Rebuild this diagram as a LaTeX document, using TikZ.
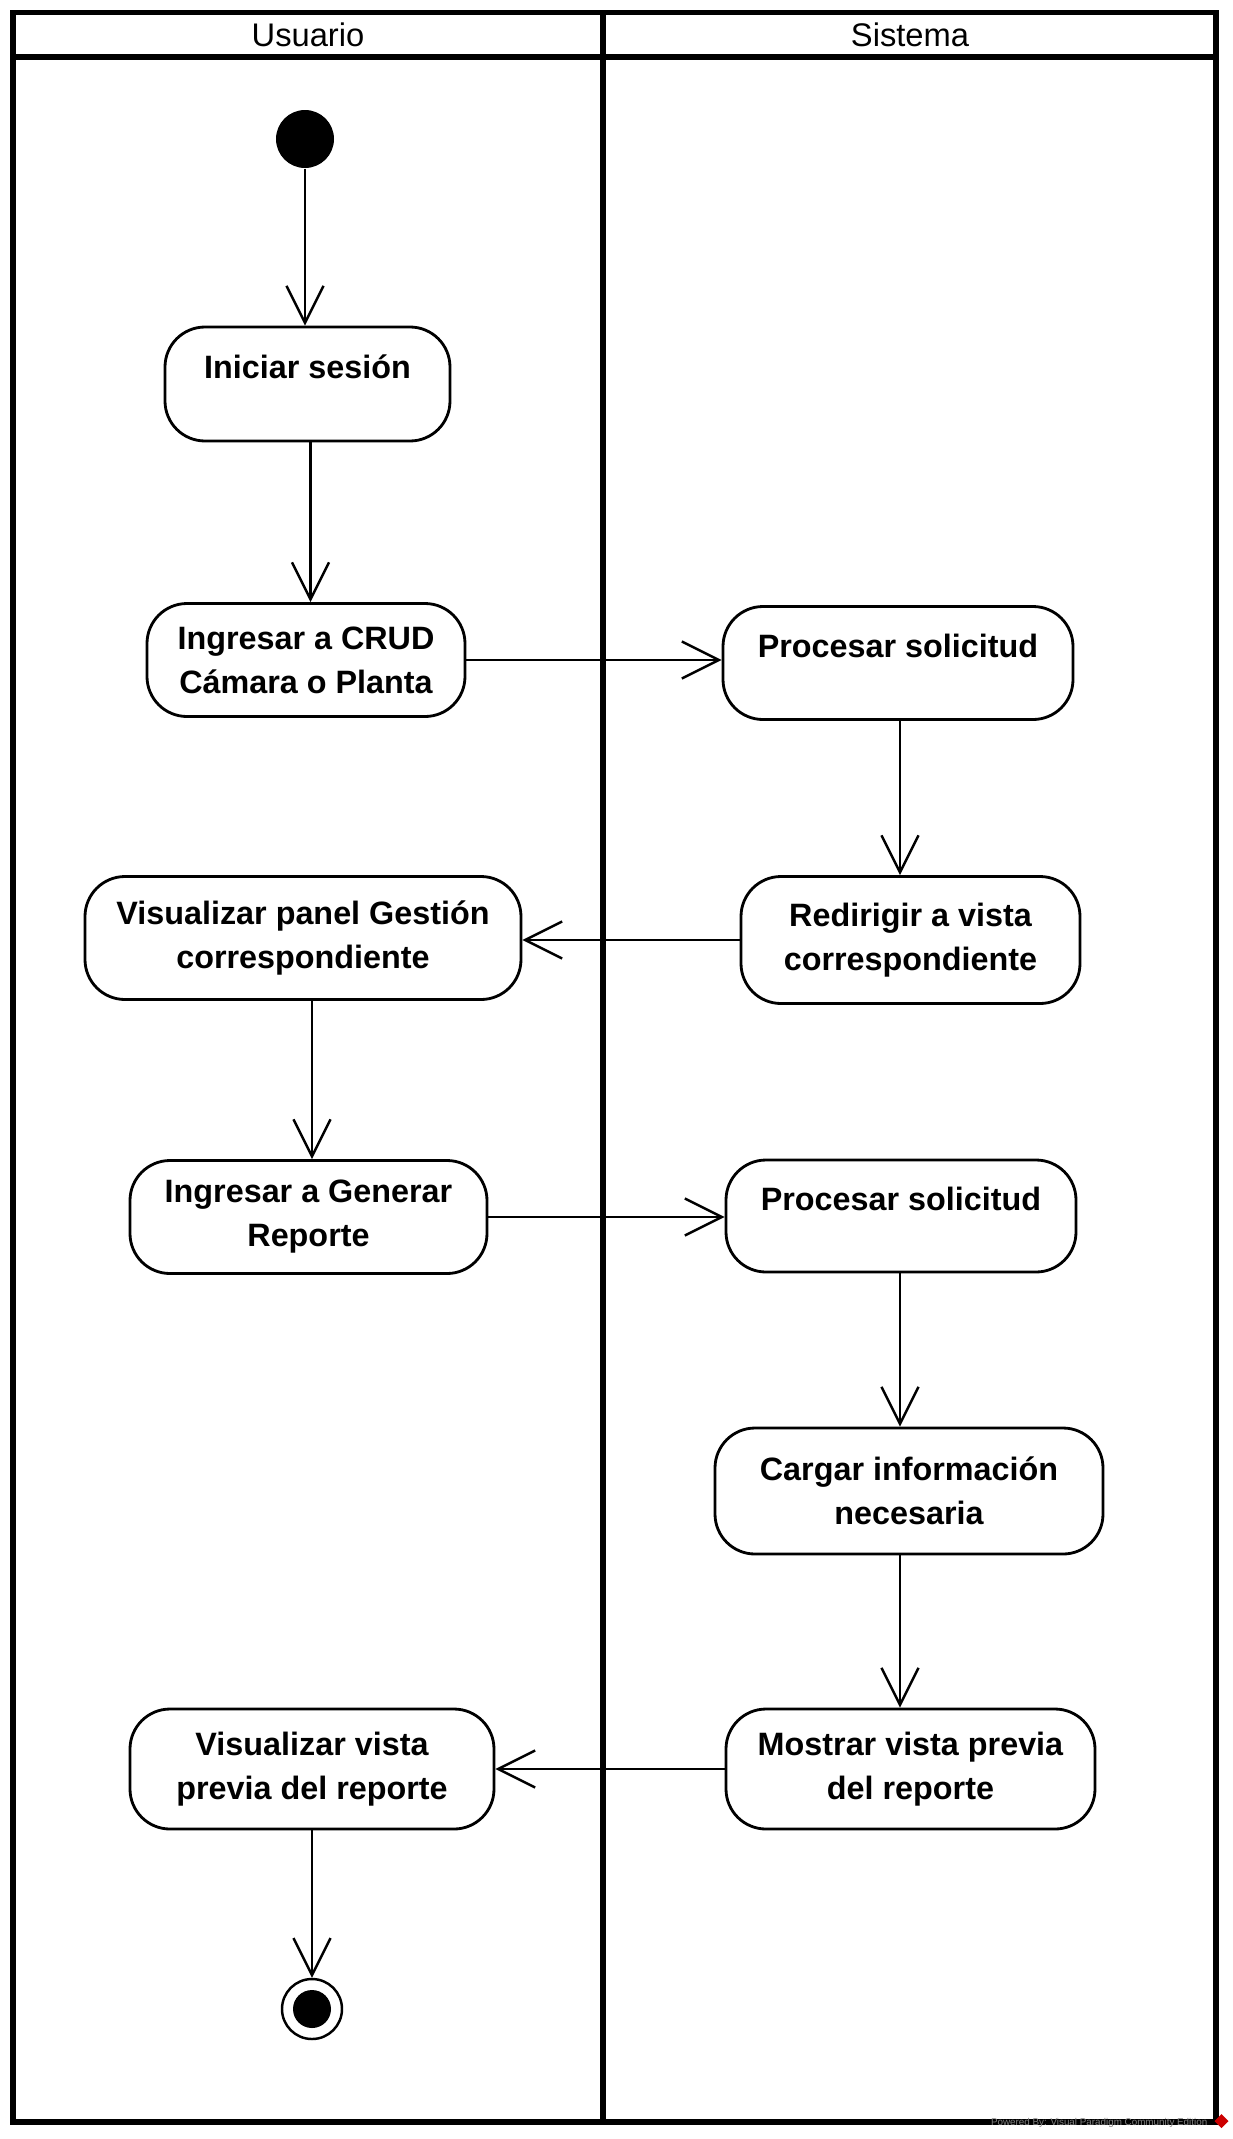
\documentclass[tikz,border=0pt]{standalone}
\usepackage{fontspec}
\setmainfont{Liberation Sans}
\usetikzlibrary{arrows.meta}

\begin{document}
\begin{tikzpicture}[
    accion/.style={draw, rounded corners=0.4cm, line width=0.8pt, align=center, inner sep=0pt,
        font=\bfseries\fontsize{9.2}{12.5}\selectfont},
    accionuna/.style={accion, text height=0.30cm, text depth=0.41cm},
    flujo/.style={-{Straight Barb[length=3.7mm,width=3.7mm]}, line width=0.7pt},
    carril/.style={line width=1.7pt},
    carriltit/.style={font=\fontsize{9.3}{11}\selectfont},
]
			\useasboundingbox (0, 0) rectangle (12.33, -21.39);
			% carriles
			\draw [carril] (0.13, -0.125) rectangle (12.16, -21.22);
			\draw [carril] (0.13, -0.57) -- (12.16, -0.57);
			\draw [carril] (6.03, -0.125) -- (6.03, -21.22);
			\node [carriltit] (usuario) at (3.08, -0.35) {Usuario};
			\node [carriltit] (sistema) at (9.10, -0.35) {Sistema};

			% inicio y fin
			\node [circle, fill=black, minimum size=0.58cm, inner sep=0pt] (inicio) at (3.05, -1.39) {};
			\node [circle, draw, line width=0.7pt, minimum size=0.60cm, inner sep=0pt] (fin) at (3.12, -20.09) {};
			\fill [black] (fin.center) circle (0.19);

			% acciones usuario
			\node [accionuna, minimum width=2.85cm, minimum height=1.14cm] (iniciar) at (3.075, -3.84) {Iniciar sesión};
			\node [accion, minimum width=3.18cm, minimum height=1.13cm] (crud) at (3.06, -6.60) {Ingresar a CRUD\\Cámara o Planta};
			\node [accion, minimum width=4.36cm, minimum height=1.23cm] (panel) at (3.03, -9.38) {Visualizar panel Gestión\\correspondiente};
			\node [accion, minimum width=3.57cm, minimum height=1.13cm] (generar) at (3.085, -12.17) {Ingresar a Generar\\Reporte};
			\node [accion, minimum width=3.64cm, minimum height=1.20cm] (vervista) at (3.12, -17.69) {Visualizar vista\\previa del reporte};

			% acciones sistema
			\node [accionuna, minimum width=3.50cm, minimum height=1.13cm] (proc1) at (8.98, -6.63) {Procesar solicitud};
			\node [accion, minimum width=3.39cm, minimum height=1.27cm] (redir) at (9.105, -9.40) {Redirigir a vista\\correspondiente};
			\node [accionuna, minimum width=3.50cm, minimum height=1.12cm] (proc2) at (9.01, -12.16) {Procesar solicitud};
			\node [accion, minimum width=3.88cm, minimum height=1.26cm] (cargar) at (9.09, -14.91) {Cargar información\\necesaria};
			\node [accion, minimum width=3.69cm, minimum height=1.20cm] (mostrar) at (9.105, -17.69) {Mostrar vista previa\\del reporte};

			% flujo
			\draw [flujo] (inicio.south) -- (inicio.south |- iniciar.north);
			\draw [flujo] ([xshift=0.03cm]iniciar.south) -- ([xshift=0.03cm]iniciar.south |- crud.north);
			\draw [flujo] (crud.east) -- (crud.east -| proc1.west);
			\draw [flujo] ([xshift=0.02cm]proc1.south) -- ([xshift=0.02cm]proc1.south |- redir.north);
			\draw [flujo] (redir.west) -- (redir.west -| panel.east);
			\draw [flujo] ([xshift=0.09cm]panel.south) -- ([xshift=0.09cm]panel.south |- generar.north);
			\draw [flujo] (generar.east) -- (generar.east -| proc2.west);
			\draw [flujo] ([xshift=-0.01cm]proc2.south) -- ([xshift=-0.01cm]proc2.south |- cargar.north);
			\draw [flujo] ([xshift=-0.09cm]cargar.south) -- ([xshift=-0.09cm]cargar.south |- mostrar.north);
			\draw [flujo] (mostrar.west) -- (mostrar.west -| vervista.east);
			\draw [flujo] (vervista.south) -- (fin.north);

			% marca de agua
			\node [anchor=base east, text=gray, inner sep=0pt, font=\fontsize{2.8}{3}\selectfont] (marca) at (12.08, -21.25) {Powered By: Visual Paradigm Community Edition};
			\fill [red!80!black] (12.215, -21.14) -- (12.285, -21.21) -- (12.215, -21.28) -- (12.145, -21.21) -- cycle;
		\end{tikzpicture}
\end{document}
